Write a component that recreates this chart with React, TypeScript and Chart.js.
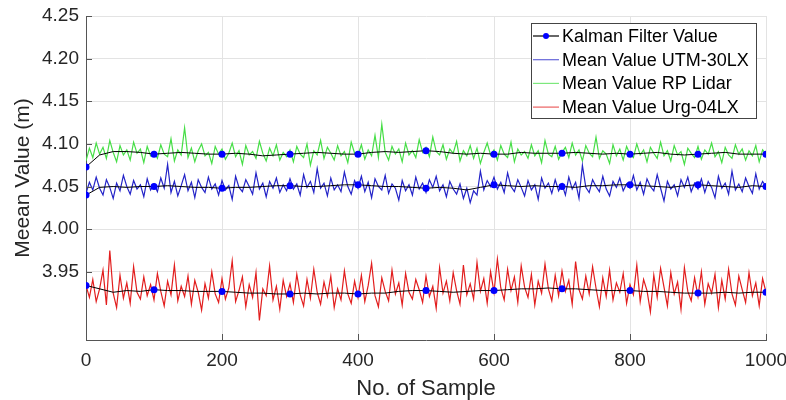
import React, { useEffect, useRef } from "react";
import { Chart, registerables } from "chart.js";

Chart.register(...registerables);

const FONT = '"Liberation Sans", Arial, Helvetica, sans-serif';

const NOISE_STEP = 5;
const KALMAN_STEP = 20;
const MARKER_EVERY = 100;
const X_MIN = 0;
const X_MAX = 1000;
const Y_MIN = 3.87;
const Y_MAX = 4.25;
const X_TICKS = [0, 200, 400, 600, 800, 1000];
const Y_TICKS = [3.95, 4.0, 4.05, 4.1, 4.15, 4.2, 4.25];

const LEGEND_LABELS = [
  "Kalman Filter Value",
  "Mean Value UTM-30LX",
  "Mean Value RP Lidar",
  "Mean Value Urg-04LX",
];

// RP Lidar raw mean values (every 5 samples)
const rpLidar = [
  4.080, 4.095, 4.084, 4.101, 4.088, 4.096, 4.083, 4.104, 4.090, 4.079, 4.098, 4.087, 4.093, 4.081, 4.102, 4.089, 4.094, 4.078, 4.097, 4.086,
  4.091, 4.083, 4.099, 4.088, 4.085, 4.106, 4.080, 4.093, 4.087, 4.119, 4.084, 4.095, 4.079, 4.092, 4.100, 4.086, 4.090, 4.077, 4.097, 4.088,
  4.094, 4.082, 4.089, 4.101, 4.085, 4.092, 4.076, 4.098, 4.087, 4.091, 4.083, 4.103, 4.089, 4.080, 4.095, 4.086, 4.099, 4.081, 4.090, 4.085,
  4.093, 4.079, 4.097, 4.088, 4.084, 4.100, 4.075, 4.092, 4.087, 4.104, 4.083, 4.096, 4.089, 4.081, 4.098, 4.086, 4.091, 4.078, 4.102, 4.089,
  4.087, 4.099, 4.082, 4.093, 4.086, 4.110, 4.084, 4.123, 4.090, 4.081, 4.097, 4.088, 4.094, 4.079, 4.101, 4.087, 4.092, 4.084, 4.105, 4.090,
  4.096, 4.085, 4.108, 4.091, 4.087, 4.099, 4.082, 4.094, 4.089, 4.103, 4.080, 4.092, 4.086, 4.098, 4.083, 4.095, 4.077, 4.090, 4.101, 4.087,
  4.093, 4.081, 4.098, 4.088, 4.084, 4.102, 4.079, 4.094, 4.087, 4.091, 4.083, 4.099, 4.086, 4.092, 4.078, 4.104, 4.088, 4.085, 4.097, 4.082,
  4.090, 4.096, 4.084, 4.101, 4.087, 4.093, 4.080, 4.098, 4.089, 4.085, 4.108, 4.083, 4.092, 4.088, 4.077, 4.099, 4.086, 4.094, 4.081, 4.097,
  4.088, 4.084, 4.100, 4.087, 4.093, 4.079, 4.096, 4.089, 4.083, 4.102, 4.086, 4.092, 4.080, 4.098, 4.087, 4.091, 4.076, 4.095, 4.089, 4.084,
  4.097, 4.082, 4.093, 4.088, 4.101, 4.085, 4.091, 4.078, 4.096, 4.087, 4.083, 4.099, 4.088, 4.094, 4.081, 4.092, 4.086, 4.098, 4.079, 4.093,
  4.088,
];

// UTM-30LX raw mean values (every 5 samples)
const utm30lx = [
  4.042, 4.055, 4.046, 4.061, 4.048, 4.040, 4.058, 4.049, 4.036, 4.054, 4.045, 4.063, 4.050, 4.041, 4.057, 4.047, 4.052, 4.038, 4.059, 4.046,
  4.053, 4.044, 4.060, 4.048, 4.076, 4.043, 4.056, 4.039, 4.051, 4.064, 4.045, 4.055, 4.037, 4.058, 4.049, 4.043, 4.061, 4.047, 4.053, 4.040,
  4.057, 4.046, 4.051, 4.035, 4.062, 4.049, 4.044, 4.058, 4.050, 4.041, 4.066, 4.047, 4.054, 4.038, 4.056, 4.048, 4.060, 4.043, 4.052, 4.045,
  4.059, 4.047, 4.053, 4.040, 4.064, 4.049, 4.056, 4.043, 4.071, 4.048, 4.054, 4.039, 4.060, 4.046, 4.052, 4.044, 4.067, 4.050, 4.041, 4.057,
  4.048, 4.062, 4.044, 4.055, 4.037, 4.059, 4.050, 4.046, 4.063, 4.042, 4.053, 4.048, 4.034, 4.057, 4.045, 4.052, 4.040, 4.061, 4.047, 4.054,
  4.043, 4.058, 4.049, 4.062, 4.045, 4.052, 4.038, 4.056, 4.047, 4.041, 4.053, 4.036, 4.048, 4.031, 4.045, 4.040, 4.068, 4.046, 4.057, 4.050,
  4.061, 4.047, 4.055, 4.043, 4.066, 4.050, 4.044, 4.058, 4.049, 4.039, 4.057, 4.046, 4.052, 4.035, 4.060, 4.048, 4.054, 4.042, 4.058, 4.045,
  4.053, 4.040, 4.061, 4.047, 4.055, 4.036, 4.075, 4.049, 4.043, 4.058, 4.050, 4.044, 4.062, 4.047, 4.039, 4.056, 4.049, 4.060, 4.045, 4.053,
  4.048, 4.063, 4.046, 4.055, 4.041, 4.059, 4.050, 4.045, 4.064, 4.048, 4.033, 4.056, 4.047, 4.052, 4.039, 4.058, 4.049, 4.061, 4.044, 4.054,
  4.047, 4.059, 4.043, 4.056, 4.049, 4.037, 4.062, 4.048, 4.054, 4.041, 4.068, 4.046, 4.053, 4.044, 4.060, 4.050, 4.042, 4.065, 4.047, 4.056,
  4.050,
];

// Urg-04LX raw mean values (every 5 samples)
const urg04lx = [
  3.934, 3.920, 3.941, 3.915, 3.930, 3.952, 3.911, 3.975, 3.925, 3.908, 3.946, 3.919, 3.937, 3.913, 3.956, 3.926, 3.918, 3.944, 3.922, 3.935,
  3.917, 3.948, 3.927, 3.910, 3.939, 3.923, 3.958, 3.916, 3.933, 3.921, 3.945, 3.912, 3.940, 3.926, 3.905, 3.936, 3.919, 3.950, 3.924, 3.914,
  3.942, 3.918, 3.931, 3.963, 3.915, 3.928, 3.944, 3.909, 3.935, 3.920, 3.949, 3.893, 3.930, 3.922, 3.957, 3.917, 3.933, 3.906, 3.940, 3.921,
  3.936, 3.914, 3.947, 3.923, 3.910, 3.941, 3.919, 3.953, 3.926, 3.912, 3.938, 3.921, 3.945, 3.908, 3.930, 3.917, 3.951, 3.924, 3.913, 3.939,
  3.920, 3.946, 3.915, 3.934, 3.960, 3.922, 3.909, 3.943, 3.927, 3.916, 3.952, 3.924, 3.937, 3.911, 3.948, 3.926, 3.918, 3.941, 3.929, 3.914,
  3.945, 3.921, 3.933, 3.907, 3.955, 3.925, 3.939, 3.916, 3.949, 3.928, 3.912, 3.958, 3.923, 3.936, 3.918, 3.961, 3.927, 3.942, 3.913, 3.950,
  3.926, 3.965, 3.931, 3.917, 3.953, 3.928, 3.944, 3.914, 3.957, 3.932, 3.920, 3.947, 3.911, 3.939, 3.925, 3.959, 3.930, 3.916, 3.946, 3.922,
  3.951, 3.927, 3.940, 3.912, 3.962, 3.929, 3.918, 3.945, 3.924, 3.956, 3.931, 3.909, 3.943, 3.921, 3.952, 3.917, 3.937, 3.926, 3.948, 3.913,
  3.935, 3.923, 3.958, 3.915, 3.941, 3.928, 3.903, 3.946, 3.920, 3.954, 3.932, 3.910, 3.949, 3.924, 3.938, 3.906, 3.955, 3.927, 3.916, 3.943,
  3.921, 3.950, 3.912, 3.936, 3.925, 3.947, 3.908, 3.940, 3.918, 3.953, 3.924, 3.911, 3.945, 3.929, 3.914, 3.949, 3.922, 3.937, 3.910, 3.942,
  3.926,
];

// Kalman filter estimates (every 20 samples)
const kalmanRp = [
  4.073, 4.087, 4.091, 4.091, 4.090, 4.088, 4.089, 4.090, 4.089, 4.088,
  4.088, 4.089, 4.088, 4.086, 4.087, 4.088, 4.089, 4.090, 4.089, 4.088,
  4.088, 4.090, 4.091, 4.090, 4.091, 4.092, 4.091, 4.089, 4.088, 4.089,
  4.088, 4.088, 4.090, 4.089, 4.089, 4.089, 4.090, 4.089, 4.088, 4.089,
  4.088, 4.089, 4.090, 4.088, 4.087, 4.088, 4.089, 4.090, 4.088, 4.088,
  4.088,
];
const kalmanUtm = [
  4.040, 4.049, 4.050, 4.049, 4.050, 4.050, 4.051, 4.050, 4.049, 4.049,
  4.048, 4.049, 4.049, 4.050, 4.051, 4.051, 4.050, 4.050, 4.051, 4.052,
  4.052, 4.051, 4.050, 4.050, 4.049, 4.048, 4.049, 4.048, 4.046, 4.049,
  4.052, 4.051, 4.050, 4.051, 4.050, 4.050, 4.049, 4.051, 4.051, 4.052,
  4.052, 4.051, 4.050, 4.049, 4.051, 4.052, 4.051, 4.050, 4.049, 4.051,
  4.050,
];
const kalmanUrg = [
  3.934, 3.930, 3.926, 3.928, 3.927, 3.929, 3.928, 3.928, 3.927, 3.927,
  3.927, 3.926, 3.925, 3.925, 3.924, 3.924, 3.925, 3.924, 3.925, 3.925,
  3.924, 3.925, 3.925, 3.927, 3.928, 3.928, 3.927, 3.926, 3.927, 3.928,
  3.928, 3.929, 3.930, 3.930, 3.931, 3.930, 3.930, 3.929, 3.928, 3.928,
  3.928, 3.927, 3.927, 3.926, 3.925, 3.925, 3.925, 3.926, 3.925, 3.926,
  3.926,
];

const COLORS = {
  kalman: "#000000",
  marker: "#0000ff",
  utm: "rgb(35,35,200)",
  rp: "rgb(70,222,70)",
  urg: "rgb(226,30,30)",
  axis: "#555555",
  grid: "#e3e3e3",
  text: "#262626",
};

const toXY = (vals: number[], step: number) => vals.map((y, i) => ({ x: i * step, y }));

const kalmanDataset = (vals: number[]) => ({
  label: LEGEND_LABELS[0],
  data: toXY(vals, KALMAN_STEP),
  borderColor: COLORS.kalman,
  borderWidth: 1,
  pointRadius: (ctx: any) => ((ctx.dataIndex * KALMAN_STEP) % MARKER_EVERY === 0 ? 3.5 : 0),
  pointBackgroundColor: COLORS.marker,
  pointBorderWidth: 0,
  pointBorderColor: COLORS.marker,
  tension: 0,
  fill: false,
});

const noiseDataset = (label: string, vals: number[], color: string) => ({
  label,
  data: toXY(vals, NOISE_STEP),
  borderColor: color,
  borderWidth: 1.2,
  pointRadius: 0,
  tension: 0,
  fill: false,
});

const legendPlugin = {
  id: "matlabLegend",
  afterDraw(chart: any) {
    const { ctx, chartArea } = chart;
    const w = 225;
    const h = 95;
    const left = chartArea.right - 235;
    const top = chartArea.top + 7;
    ctx.save();
    ctx.fillStyle = "#ffffff";
    ctx.fillRect(left, top, w, h);
    ctx.strokeStyle = "#444444";
    ctx.lineWidth = 1;
    ctx.strokeRect(Math.round(left) + 0.5, Math.round(top) + 0.5, w, h);
    const colors = [COLORS.kalman, COLORS.utm, COLORS.rp, COLORS.urg];
    ctx.font = `18px ${FONT}`;
    ctx.textBaseline = "middle";
    for (let i = 0; i < LEGEND_LABELS.length; i++) {
      const cy = top + 13 + i * 23.7;
      ctx.strokeStyle = colors[i];
      ctx.globalAlpha = i === 0 ? 1 : 0.7;
      ctx.lineWidth = 1.2;
      ctx.beginPath();
      ctx.moveTo(left + 2, cy);
      ctx.lineTo(left + 28, cy);
      ctx.stroke();
      ctx.globalAlpha = 1;
      if (i === 0) {
        ctx.fillStyle = COLORS.marker;
        ctx.beginPath();
        ctx.arc(left + 15, cy, 3, 0, Math.PI * 2);
        ctx.fill();
      }
      ctx.fillStyle = "#000000";
      ctx.fillText(LEGEND_LABELS[i], left + 31, cy + 1);
    }
    ctx.restore();
  },
};

const innerTicksPlugin = {
  id: "innerTicks",
  afterDatasetsDraw(chart: any) {
    const { ctx, chartArea, scales } = chart;
    ctx.save();
    ctx.strokeStyle = COLORS.axis;
    ctx.lineWidth = 1;
    ctx.beginPath();
    for (const v of X_TICKS) {
      const px = Math.round(scales.x.getPixelForValue(v)) + 0.5;
      ctx.moveTo(px, chartArea.bottom);
      ctx.lineTo(px, chartArea.bottom - 6);
    }
    for (const v of Y_TICKS) {
      const py = Math.round(scales.y.getPixelForValue(v)) + 0.5;
      ctx.moveTo(chartArea.left, py);
      ctx.lineTo(chartArea.left + 6, py);
    }
    ctx.stroke();
    ctx.restore();
  },
};

export default function App() {
  const canvasRef = useRef<HTMLCanvasElement | null>(null);

  useEffect(() => {
    document.body.style.margin = "0";
    const canvas = canvasRef.current;
    if (!canvas) return;
    const chart = new Chart(canvas, {
      type: "line",
      data: {
        datasets: [
          kalmanDataset(kalmanRp),
          kalmanDataset(kalmanUtm),
          kalmanDataset(kalmanUrg),
          noiseDataset(LEGEND_LABELS[1], utm30lx, COLORS.utm),
          noiseDataset(LEGEND_LABELS[2], rpLidar, COLORS.rp),
          noiseDataset(LEGEND_LABELS[3], urg04lx, COLORS.urg),
        ] as any,
      },
      options: {
        animation: false,
        responsive: false,
        maintainAspectRatio: false,
        layout: { padding: { top: 16, right: 20, left: 0, bottom: 0 } },
        plugins: {
          legend: { display: false },
          tooltip: { enabled: false },
        },
        scales: {
          x: {
            type: "linear",
            min: X_MIN,
            max: X_MAX,
            afterBuildTicks: (s: any) => {
              s.ticks = X_TICKS.map((v) => ({ value: v }));
            },
            afterFit: (s: any) => {
              s.height = 60;
              s.paddingLeft = 0;
              s.paddingRight = 0;
            },
            grid: { color: COLORS.grid, drawTicks: false },
            border: { color: COLORS.axis },
            ticks: {
              padding: 11,
              color: COLORS.text,
              font: { size: 19, family: FONT, lineHeight: 1 },
              maxRotation: 0,
              callback: (v: any) => String(v),
            },
            title: {
              display: true,
              text: "No. of Sample",
              color: COLORS.text,
              font: { size: 22, family: FONT, lineHeight: 1 },
              padding: { top: 0, bottom: 0 },
            },
          },
          y: {
            type: "linear",
            min: Y_MIN,
            max: Y_MAX,
            afterBuildTicks: (s: any) => {
              s.ticks = Y_TICKS.map((v) => ({ value: v }));
            },
            afterFit: (s: any) => {
              s.width = 86;
              s.paddingTop = 0;
              s.paddingBottom = 0;
            },
            grid: { color: COLORS.grid, drawTicks: false },
            border: { color: COLORS.axis },
            ticks: {
              padding: 7,
              color: COLORS.text,
              font: { size: 19, family: FONT },
              callback: (v: any) => Number(v).toFixed(2),
            },
            title: {
              display: true,
              text: "Meean Value (m)",
              color: COLORS.text,
              font: { size: 21, family: FONT, lineHeight: 1 },
              padding: { top: 13, bottom: 0 },
            },
          },
        },
      } as any,
      plugins: [innerTicksPlugin, legendPlugin],
    });
    return () => chart.destroy();
  }, []);

  return (
    <div style={{ width: 786, height: 400 }}>
      <canvas ref={canvasRef} width={786} height={400} style={{ display: "block" }} />
    </div>
  );
}
